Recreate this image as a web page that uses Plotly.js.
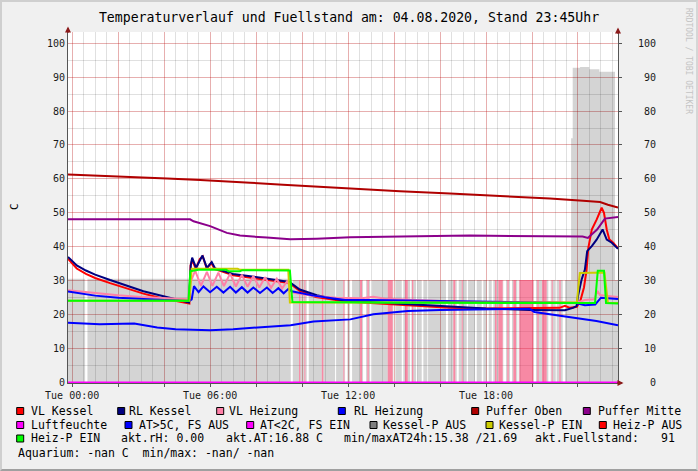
<!DOCTYPE html>
<html>
<head>
<meta charset="utf-8">
<script src="https://cdn.plot.ly/plotly-3.0.1.min.js"></script>
<style>
  html, body { margin: 0; padding: 0; background: #f0f0f0; }
  #wrap { position: relative; width: 698px; height: 471px; }
  #chart { width: 698px; height: 471px; }
  #frame { position: absolute; left: 0; top: 0; width: 698px; height: 471px; box-sizing: border-box;
           border-top: 2px solid #cfcfcf; border-left: 2px solid #cfcfcf; border-right: 2px solid #d6d6d6;
           border-bottom: 2px solid #a0a0a0; pointer-events: none; }
</style>
</head>
<body>
<div id="wrap"><div id="chart"></div><div id="frame"></div></div>
<script>
// ---------------- data (hours since Tue 00:00, values in °C / %) ----------------
const tStart = -0.18, tEnd = 23.74;

const vlKesselT = [-0.18, 0.2, 0.6, 1.0, 1.65, 2.5, 3.1, 3.8, 4.5, 5.0, 5.1, 5.15, 5.22, 5.38, 5.55, 5.68, 5.85, 6.05, 6.2, 6.5, 7.0, 8.5, 9.45, 9.9, 10.6, 11.9, 14.3, 16.4, 18.0, 19.9, 21.2, 21.43, 21.65, 21.95, 22.1, 22.26, 22.37, 22.45, 22.6, 22.81, 23.03, 23.13, 23.25, 23.36, 23.53, 23.74];
const vlKesselV = [36.5, 33.6, 32.0, 30.8, 29.3, 27.4, 26.2, 25.0, 24.0, 23.5, 23.3, 34.5, 36.0, 33.5, 36.4, 37.2, 33.6, 35.2, 33.4, 32.8, 31.6, 30.2, 29.3, 27.0, 25.2, 23.9, 22.8, 22.0, 21.8, 21.9, 22.0, 22.6, 22.0, 22.3, 24.0, 28.0, 33.0, 39.7, 45.1, 48.0, 51.5, 50.0, 45.1, 42.2, 41.2, 39.6];

const rlKesselT = [-0.18, 0.2, 0.6, 1.0, 1.65, 2.5, 3.1, 3.8, 4.5, 5.0, 5.08, 5.16, 5.22, 5.39, 5.55, 5.67, 5.86, 6.07, 6.22, 6.5, 7.0, 8.5, 9.45, 9.9, 10.64, 11.35, 11.87, 14.3, 16.4, 18.0, 19.9, 21.43, 21.78, 21.94, 22.0, 22.16, 22.3, 22.4, 22.6, 22.81, 23.07, 23.25, 23.47, 23.74];
const rlKesselV = [37.0, 34.5, 33.0, 31.8, 30.2, 28.3, 26.9, 25.7, 24.5, 23.8, 23.6, 34.5, 36.8, 33.8, 36.0, 37.4, 33.8, 35.5, 33.6, 33.0, 32.0, 30.6, 29.6, 27.4, 25.7, 24.7, 24.2, 23.2, 22.3, 21.8, 21.4, 21.3, 22.0, 22.5, 25.5, 30.4, 33.3, 38.7, 40.2, 42.1, 45.1, 42.1, 41.2, 39.4];

const vlHeizT = [-0.18, 1, 2, 3, 4, 5.05, 5.15, 5.35, 5.6, 5.86, 6.1, 6.36, 6.6, 6.87, 7.12, 7.38, 7.63, 7.88, 8.14, 8.39, 8.65, 8.9, 9.13, 9.36, 9.5, 9.6, 10.5, 11.5, 12.6, 13.1, 13.6, 14.5, 16, 18, 20, 21.95, 22.3, 22.7, 22.85, 22.95, 23.2, 23.74];
const vlHeizV = [27.2, 26.3, 25.7, 25.2, 24.8, 24.5, 29.5, 33.0, 28.5, 32.6, 28.5, 32.4, 28.4, 32.1, 28.3, 31.8, 28.2, 31.4, 28.0, 31.0, 27.9, 30.6, 27.7, 30.0, 27.5, 26.5, 25.5, 25.0, 24.8, 25.3, 24.7, 24.4, 24.0, 23.7, 23.5, 23.5, 24.3, 24.5, 27.0, 25.8, 25.6, 25.2];

const rlHeizT = [-0.18, 1, 2, 3, 4, 5.1, 5.2, 5.3, 5.5, 5.71, 6.0, 6.29, 6.58, 6.87, 7.12, 7.38, 7.63, 7.88, 8.17, 8.47, 8.72, 8.97, 9.2, 9.41, 9.55, 10.5, 11.87, 13, 16, 20, 21.9, 22.3, 22.75, 23.0, 23.2, 23.74];
const rlHeizV = [26.8, 25.6, 25.0, 24.6, 24.3, 24.0, 24.5, 28.4, 26.6, 28.3, 26.6, 28.2, 26.5, 28.2, 26.5, 28.1, 26.5, 28.0, 26.4, 28.0, 26.4, 27.8, 26.3, 27.6, 26.9, 25.6, 24.3, 24.3, 24.0, 23.6, 23.4, 22.8, 23.0, 25.0, 24.9, 24.6];

const pufferObenT = [-0.18, 1.96, 4.13, 5.57, 7.0, 7.74, 9.17, 10.65, 12.09, 14.26, 16.43, 18.6, 20.78, 22.22, 22.96, 23.3, 23.74];
const pufferObenV = [61.3, 60.8, 60.1, 59.7, 59.3, 58.9, 58.3, 57.7, 57.1, 56.4, 55.7, 55.0, 54.2, 53.6, 53.2, 52.4, 51.6];

const pufferMitteT = [-0.18, 5.13, 5.28, 6.0, 6.73, 7.3, 8.47, 9.48, 10.64, 12.09, 17.3, 22.2, 22.43, 22.83, 23.17, 23.74];
const pufferMitteV = [48.1, 48.1, 47.5, 46.1, 44.1, 43.3, 42.7, 42.2, 42.4, 42.8, 43.3, 43.0, 42.6, 45.1, 48.3, 48.8];

const luftT = [-0.18, 23.74];
const luftV = [0, 0];

const atT = [-0.18, 1.2, 2.7, 3.7, 4.5, 6.0, 7.0, 8.0, 9.5, 10.5, 11.6, 12.1, 13.1, 14.0, 14.6, 16.0, 18.0, 19.9, 20.1, 21.35, 22.8, 23.74];
const atV = [17.6, 17.2, 17.4, 16.2, 15.7, 15.4, 15.7, 16.2, 16.9, 18.0, 18.3, 18.6, 20.1, 20.6, 21.1, 21.4, 21.6, 21.7, 20.8, 19.6, 18.1, 16.9];

const kesselPEinT = [-0.18, 5.1, 5.2, 7.2, 7.3, 9.4, 9.47, 21.95, 22.08, 23.15, 23.3, 23.74];
const kesselPEinV = [24.1, 24.1, 33.5, 33.5, 33.2, 33.2, 23.6, 23.6, 32.3, 32.4, 23.5, 23.4];

const heizPEinT = [-0.18, 5.06, 5.14, 5.5, 6.7, 6.8, 7.3, 7.4, 9.47, 9.58, 15, 22.74, 22.86, 23.13, 23.22, 23.74];
const heizPEinV = [24.1, 24.1, 32.8, 33.2, 33.2, 32.8, 32.8, 33.1, 33.0, 23.7, 23.5, 23.4, 32.9, 32.9, 23.4, 23.3];

// Kessel-P AUS area: gaps (white) and Heiz-P AUS stripes (pink), hours
const gapStart = [0.565, 9.478, 10.204, 11.435, 11.87, 12.087, 12.652, 12.957, 13.97, 14.335, 14.696, 14.957, 15.204, 15.448, 16.26, 16.726, 17.161, 17.522, 17.813, 18.03, 18.248, 18.752, 19.013, 19.361, 20.087, 20.709, 21.0, 21.335];
const gapEnd   = [0.665, 9.596, 10.291, 11.509, 11.97, 12.174, 12.783, 13.043, 14.057, 14.404, 14.752, 15.013, 15.274, 15.509, 16.348, 16.813, 17.217, 17.596, 17.883, 18.117, 18.317, 18.87, 19.13, 19.422, 20.174, 20.813, 21.074, 21.435];
const pinkStart = [9.87, 10.1, 10.857, 11.796, 12.522, 12.839, 13.726, 14.478, 14.783, 16.578, 16.943, 18.391, 18.535, 18.926, 19.187, 19.448, 20.23, 20.435, 20.857, 21.187];
const pinkEnd   = [9.926, 10.145, 10.926, 11.839, 12.609, 12.9, 13.943, 14.596, 14.839, 16.665, 16.987, 18.465, 18.726, 18.987, 19.304, 20.057, 20.29, 20.639, 20.9, 21.248];
const pinkLevel = 30.2;
// top level of the grey area (incl. Fuellstand block at the right)
const grayLevelT = [-0.18, 9.5, 21.7, 21.77, 22.09, 22.49, 22.93, 23.61];
const grayLevelV = [30.6, 30.2, 72.0, 92.8, 93.0, 92.3, 91.6, 30.2];

const xTickVals = [0, 2, 4, 6, 8, 10, 12, 14, 16, 18, 20, 22];
const xTickText = ['Tue 00:00', '', '', 'Tue 06:00', '', '', 'Tue 12:00', '', '', 'Tue 18:00', '', ''];
const yTickVals = [0, 10, 20, 30, 40, 50, 60, 70, 80, 90, 100];

// ---------------- build status areas ----------------
function inAny(t, s, e) { for (let i = 0; i < s.length; i++) if (t >= s[i] && t < e[i]) return true; return false; }
function levelAt(t) { let v = grayLevelV[0]; for (let i = 0; i < grayLevelT.length; i++) if (t >= grayLevelT[i]) v = grayLevelV[i]; return v; }
const bps = Array.from(new Set([tStart, tEnd].concat(gapStart, gapEnd, pinkStart, pinkEnd, grayLevelT)))
  .filter(t => t >= tStart && t <= tEnd).sort((a, b) => a - b);
const grayX = [], grayY = [], pinkX = [], pinkY = [];
for (let i = 0; i < bps.length; i++) {
  const a = bps[i], b = (i + 1 < bps.length) ? bps[i + 1] : bps[i];
  const m = (i + 1 < bps.length) ? (a + b) / 2 : a - 1e-6;
  const g = inAny(m, gapStart, gapEnd), p = inAny(m, pinkStart, pinkEnd);
  grayX.push(a); grayY.push((!g && !p) ? levelAt(m) : 0);
  pinkX.push(a); pinkY.push(p ? pinkLevel : 0);
}

function line(x, y, color, yaxis) {
  return {type: 'scatter', mode: 'lines', x: x, y: y, yaxis: yaxis || 'y',
          line: {color: color, width: 2, shape: 'linear'}, hoverinfo: 'skip'};
}

const traces = [
  {type: 'scatter', mode: 'lines', x: grayX, y: grayY, line: {width: 0, shape: 'hv'}, fill: 'tozeroy', fillcolor: 'rgba(0,0,0,0.17)', hoverinfo: 'skip'},
  {type: 'scatter', mode: 'lines', x: pinkX, y: pinkY, line: {width: 0, shape: 'hv'}, fill: 'tozeroy', fillcolor: 'rgba(240,40,90,0.55)', hoverinfo: 'skip'},
  line(vlKesselT, vlKesselV, '#ff0000'),
  line(rlKesselT, rlKesselV, '#000080'),
  line(vlHeizT, vlHeizV, '#ff80a8'),
  line(rlHeizT, rlHeizV, '#0000ff'),
  line(pufferObenT, pufferObenV, '#b00000'),
  line(pufferMitteT, pufferMitteV, '#8b008b'),
  line(atT, atV, '#0000ff'),
  line(kesselPEinT, kesselPEinV, '#cccc00'),
  line(heizPEinT, heizPEinV, '#00ff00'),
  line(luftT, luftV, '#ff00ff', 'y2')
];

// ---------------- layout helpers (pixel -> paper) ----------------
const L = 68, R = 618, T = 32, B = 383;
const PX = p => (p - L) / (R - L);
const PY = p => (B - p) / (B - T);
const FONT = 'DejaVu Sans Mono, monospace';

const legendItems = [
  // [square-left px, row-center py, color, label, text-left px]
  [16.7, 411, '#ff0000', 'VL Kessel', 30],
  [117.7, 411, '#000080', 'RL Kessel', 128.3],
  [216.7, 411, '#ff80a8', 'VL Heizung', 227.7],
  [338.3, 411, '#0000ff', 'RL Heizung', 352.7],
  [471.7, 411, '#b00000', 'Puffer Oben', 485],
  [583.3, 411, '#8b008b', 'Puffer Mitte', 596.7],
  [16.7, 425, '#ff00ff', 'Luftfeuchte', 30],
  [125, 425, '#0000ff', 'AT>5C, FS AUS', 137.7],
  [246.7, 425, '#ff00ff', 'AT<2C, FS EIN', 259.3],
  [370, 425, '#808080', 'Kessel-P AUS', 382.3],
  [486, 425, '#cccc00', 'Kessel-P EIN', 497.7],
  [599.3, 425, '#ff0000', 'Heiz-P AUS', 612.3],
  [16.7, 438.5, '#00ff00', 'Heiz-P EIN', 30]
];
const infoTexts = [
  [120, 438.5, 'akt.rH: 0.00'],
  [225, 438.5, 'akt.AT:16.88 C'],
  [342.7, 438.5, 'min/maxAT24h:15.38 /21.69'],
  [534.3, 438.5, 'akt.Fuellstand:'],
  [660, 438.5, '91'],
  [16.7, 453.3, 'Aquarium: -nan C\u00a0 min/max: -nan/ -nan']
];

const shapes = [], annotations = [];
legendItems.forEach(it => {
  shapes.push({type: 'rect', xref: 'paper', yref: 'paper', x0: PX(it[0]), x1: PX(it[0] + 7), y0: PY(it[1] + 3.5), y1: PY(it[1] - 3.5),
               fillcolor: it[2], line: {color: '#000000', width: 1}, layer: 'above'});
  annotations.push({xref: 'paper', yref: 'paper', x: PX(it[4] - 1), y: PY(it[1]), xanchor: 'left', yanchor: 'middle',
                    text: it[3], showarrow: false, font: {family: FONT, size: 11.5, color: '#000'}});
});
infoTexts.forEach(it => {
  annotations.push({xref: 'paper', yref: 'paper', x: PX(it[0] - 1), y: PY(it[1]), xanchor: 'left', yanchor: 'middle',
                    text: it[2], showarrow: false, font: {family: FONT, size: 11.5, color: '#000'}});
});
// y label
annotations.push({xref: 'paper', yref: 'paper', x: PX(14), y: PY(207), text: 'C', textangle: -90, showarrow: false,
                  xanchor: 'center', yanchor: 'middle', font: {family: FONT, size: 11, color: '#000'}});
// watermark
annotations.push({xref: 'paper', yref: 'paper', x: PX(688), y: PY(61), text: 'RRDTOOL / TOBI OETIKER', textangle: 90, showarrow: false,
                  xanchor: 'center', yanchor: 'middle', font: {family: FONT, size: 8, color: '#c4c4c4'}});
// arrows
const arrowColor = '#8b1a1a';
annotations.push({xref: 'paper', yref: 'paper', x: 0, y: PY(26.5), ax: 0, ay: 8, text: '', showarrow: true, arrowhead: 2, arrowsize: 1.2, arrowwidth: 1, arrowcolor: arrowColor});
annotations.push({xref: 'paper', yref: 'paper', x: 1, y: PY(27.5), ax: 0, ay: 8, text: '', showarrow: true, arrowhead: 2, arrowsize: 1.2, arrowwidth: 1, arrowcolor: arrowColor});
annotations.push({xref: 'paper', yref: 'paper', x: PX(623.5), y: 0, ax: -8, ay: 0, text: '', showarrow: true, arrowhead: 2, arrowsize: 1.2, arrowwidth: 1, arrowcolor: arrowColor});

const nb = s => s.padStart(3, '\u00a0');
const majorGrid = 'rgba(255,0,0,0.22)';
const minorGrid = 'rgba(0,0,0,0.12)';

const layout = {
  width: 698, height: 471,
  margin: {l: L, r: 698 - R, t: T, b: 471 - B, pad: 0},
  paper_bgcolor: '#f0f0f0',
  plot_bgcolor: '#ffffff',
  showlegend: false,
  font: {family: FONT, size: 10, color: '#1a1a1a'},
  title: {text: 'Temperaturverlauf und Fuellstand am: 04.08.2020, Stand 23:45Uhr',
          xref: 'container', x: 0.5, xanchor: 'center', yref: 'container', y: 1 - 17 / 471, yanchor: 'middle',
          font: {family: FONT, size: 13.2, color: '#000'}},
  xaxis: {
    range: [tStart, tEnd], tickmode: 'array', tickvals: xTickVals, ticktext: xTickText,
    showgrid: true, gridcolor: majorGrid, gridwidth: 1,
    minor: {tickmode: 'linear', tick0: 0, dtick: 0.5, showgrid: true, gridcolor: minorGrid, gridwidth: 1, ticks: ''},
    zeroline: false, showline: true, linecolor: '#555', linewidth: 1,
    ticks: 'outside', ticklen: 3, tickcolor: '#555', tickfont: {family: FONT, size: 10, color: '#1a1a1a'}
  },
  yaxis: {
    range: [-0.15, 103.3], tickmode: 'array', tickvals: yTickVals,
    showgrid: true, gridcolor: majorGrid, gridwidth: 1,
    minor: {tickmode: 'linear', tick0: 0, dtick: 5, showgrid: true, gridcolor: minorGrid, gridwidth: 1, ticks: ''},
    zeroline: false, showline: true, linecolor: '#555', linewidth: 1,
    ticks: '', tickfont: {family: FONT, size: 10, color: '#1a1a1a'}
  },
  yaxis2: {
    overlaying: 'y', side: 'right', range: [-0.15, 103.3], tickmode: 'array', tickvals: yTickVals,
    ticktext: yTickVals.map(v => nb(String(v))),
    showgrid: false, zeroline: false, showline: true, linecolor: '#555', linewidth: 1,
    ticks: 'outside', ticklen: 3, tickcolor: '#555', ticklabelstandoff: 14,
    tickfont: {family: FONT, size: 10, color: '#1a1a1a'}
  },
  shapes: shapes,
  annotations: annotations
};

Plotly.newPlot('chart', traces, layout, {displayModeBar: false, staticPlot: true});
</script>
</body>
</html>
